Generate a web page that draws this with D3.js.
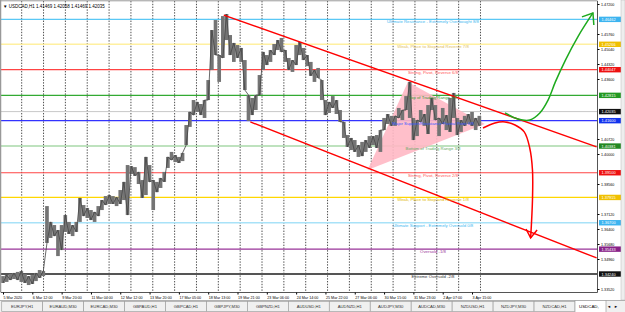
<!DOCTYPE html>
<html>
<head>
<meta charset="utf-8">
<script src="https://cdn.jsdelivr.net/npm/d3@7"></script>
<style>
body { margin: 0; background: #fff; }
svg { display: block; font-family: "Liberation Sans", Arial, sans-serif; }
</style>
</head>
<body>
<div id="chart"></div>
<script>
// USDCAD H1, sampled every 4 bars: high / low of each sample
const sampleStep = 4;
const hi = [1.3414,1.3419,1.3424,1.3429,1.3434,1.3438,1.3424,1.3414,1.3419,1.3429,1.3443,1.3438,
  1.3750,1.3674,1.3659,1.3635,1.3659,1.3707,1.3674,1.3659,1.3674,1.3789,1.3755,1.3741,1.3731,1.3722,
  1.3750,1.3779,1.3798,1.3803,1.3798,1.3793,1.3827,1.3866,1.3947,1.3942,1.3937,1.3914,1.3875,1.3986,
  1.3947,1.3875,1.3866,1.3885,1.3914,1.3986,1.4010,1.3995,1.3986,1.4005,1.4139,1.4202,1.4259,1.4250,
  1.4240,1.4259,1.4355,1.4595,1.4643,1.4475,1.4662,1.4672,1.4571,1.4533,1.4523,1.4509,1.4451,1.4283,
  1.4269,1.4283,1.4379,1.4490,1.4475,1.4499,1.4528,1.4547,1.4557,1.4499,1.4461,1.4451,1.4523,1.4538,
  1.4509,1.4475,1.4442,1.4403,1.4413,1.4355,1.4259,1.4250,1.4278,1.4259,1.4211,1.4154,1.4091,1.4077,
  1.4067,1.4043,1.4058,1.4067,1.4086,1.4086,1.4091,1.4115,1.4173,1.4192,1.4183,1.4183,1.4221,1.4211,
  1.4278,1.4346,1.4173,1.4163,1.4211,1.4192,1.4235,1.4269,1.4235,1.4173,1.4221,1.4187,1.4269,1.4293,
  1.4173,1.4163,1.4183,1.4192,1.4202,1.4173,1.4183];
const lo = [1.3381,1.3386,1.3395,1.3400,1.3395,1.3386,1.3381,1.3371,1.3376,1.3390,1.3405,1.3414,
  1.3573,1.3597,1.3606,1.3510,1.3539,1.3626,1.3616,1.3606,1.3626,1.3674,1.3702,1.3693,1.3683,1.3674,
  1.3702,1.3731,1.3755,1.3760,1.3760,1.3750,1.3760,1.3779,1.3707,1.3904,1.3895,1.3856,1.3789,1.3803,
  1.3866,1.3731,1.3817,1.3837,1.3866,1.3933,1.3971,1.3961,1.3957,1.3966,1.4043,1.4130,1.4187,1.4202,
  1.4187,1.4173,1.4259,1.4403,1.4475,1.4346,1.4461,1.4547,1.4475,1.4442,1.4461,1.4442,1.4307,1.4158,
  1.4187,1.4211,1.4283,1.4403,1.4427,1.4442,1.4475,1.4499,1.4490,1.4442,1.4403,1.4394,1.4427,1.4475,
  1.4451,1.4422,1.4375,1.4346,1.4365,1.4259,1.4187,1.4197,1.4221,1.4192,1.4154,1.4077,1.4034,1.4019,
  1.4010,1.3986,1.3990,1.4010,1.4029,1.4043,1.4029,1.4010,1.4115,1.4144,1.4135,1.4135,1.4173,1.4163,
  1.4211,1.4173,1.4067,1.4086,1.4154,1.4135,1.4096,1.4211,1.4163,1.4086,1.4144,1.4115,1.4106,1.4173,
  1.4091,1.4106,1.4135,1.4144,1.4135,1.4115,1.4135];

const timeLabels = ["5 Mar 2020","6 Mar 12:00","9 Mar 20:00","11 Mar 04:00","12 Mar 12:00","13 Mar 20:00",
  "17 Mar 05:00","18 Mar 13:00","19 Mar 21:00","23 Mar 06:00","24 Mar 14:00","25 Mar 22:00",
  "27 Mar 06:00","30 Mar 15:00","31 Mar 23:00","2 Apr 07:00","3 Apr 15:00"];
const barsPerLabel = 32;

const priceTicks = [1.472,1.4648,1.4576,1.4504,1.4432,1.436,1.4288,1.4216,1.4144,1.4072,1.4,
  1.3928,1.3856,1.3784,1.3712,1.364,1.3568,1.3496,1.3424,1.3352];

// Murrey math levels
const levelPrices = [1.46462,1.45266,1.44047,1.42815,1.41600,1.40381,1.39100,1.37915,1.36700,1.35433,1.34240];
const levelNames = ["Ultimate Resistance - Extremely Overbought 8/8","Weak, Place to Stop and Reverse 7/8",
  "Strong, Pivot, Reverse 6/8","Top of Trading Range 5/8","Major Support/Resistance Pivotal Point 4/8",
  "Bottom of Trading Range 3/8","Strong, Pivot, Reverse 2/8","Weak, Place to Stop and Reverse 1/8",
  "Ultimate Support - Extremely Oversold 0/8","Oversold -1/8","Extreme Oversold -2/8"];
const bidPrice = 1.42035;
const headerText = "USDCAD,H1  1.41469 1.42058 1.41469 1.42035";

// drawn objects, [bar, price]
const channelTop = [[241, 1.4667], [648, 1.4034]];
const channelBottom = [[270, 1.4154], [648, 1.3501]];
const triangle = [[398, 1.3923], [442, 1.4346], [526, 1.4144]];
const greenArrow = [[548,1.4197],[562,1.4168],[575,1.4163],[586,1.4197],[595,1.4259],[603,1.4346],[614,1.4451],[628,1.4566],[644,1.4677]];
const greenHead = [[632,1.4658],[644,1.4677],[645,1.4619]];
const redArrow = [[524,1.4125],[537,1.4149],[548,1.4154],[559,1.4139],[569,1.4106],[575,1.4029],[578,1.3923],[578,1.3779],[576,1.3597]];
const redHead = [[571,1.3640],[576,1.3597],[583,1.3635]];

const tabs = ["EURJPY,H1","EURAUD,M30","EURCAD,M30","GBPAUD,H1","GBPCAD,H1","GBPJPY,M30","GBPNZD,H1",
  "AUDUSD,H1","AUDNZD,H1","AUDJPY,M30","AUDCAD,M30","NZDUSD,H1","NZDJPY,M30","NZDCAD,H1"];
const activeTab = "USDCAD,";

const lineColors = ["#5ac8f5","#fff0a0","#ff4444","#33aa33","#3333ff","#a8d8a8","#ff4444","#ffd700","#a8e2f8","#993399","#555"];
const textColors = ["#40b8f0","#e0c060","#ff5555","#339933","#3355ff","#66aa66","#ff5555","#e0b800","#40b8f0","#993399","#333"];
const boxColors = ["#3cb4f0","#f0c000","#ee1111","#229922","#1133ee","#228822","#ee1111","#f0c000","#3cb4f0","#882288","#111"];
const lineWidths = [1.2,1.6,1.2,1.2,1.2,1.6,1.2,1.2,1.6,1.2,1.8];

const width = 625, height = 312,
    plotLeft = 1, plotRight = 597.5, plotTop = 1, plotBottom = 292.5;

const svg = d3.select('#chart').append('svg')
    .attr('width', width)
    .attr('height', height);

svg.append('rect').attr('width', width).attr('height', height).attr('fill', '#fff');

let xScale = d3.scaleLinear().domain([0, 648]).range([3, 596.6]);
let yScale = d3.scaleLinear().domain([1.472, 1.3352]).range([4, 289]);

let plot = svg.append('g');

// vertical dotted grid
plot.selectAll('.vgrid')
    .data(d3.range(20.4, 524, 23.85))
    .join('line')
    .attr('x1', d => xScale(d)).attr('x2', d => xScale(d))
    .attr('y1', plotTop).attr('y2', plotBottom)
    .attr('stroke', '#222').attr('stroke-width', 0.8)
    .attr('stroke-dasharray', '1.4,1.4');

// bid line
plot.append('line')
    .attr('x1', plotLeft).attr('x2', plotRight)
    .attr('y1', yScale(bidPrice)).attr('y2', yScale(bidPrice))
    .attr('stroke', '#c8c8c8').attr('stroke-width', 1);

// level lines
plot.selectAll('.level')
    .data(levelPrices)
    .join('line')
    .attr('x1', plotLeft).attr('x2', plotRight)
    .attr('y1', d => yScale(d)).attr('y2', d => yScale(d))
    .attr('stroke', (d, i) => lineColors[i])
    .attr('stroke-width', (d, i) => lineWidths[i]);

let line = d3.line().x(d => xScale(d[0])).y(d => yScale(d[1]));

// triangle
plot.append('path')
    .attr('d', line(triangle) + 'Z')
    .attr('fill', '#ffb8c4').attr('fill-opacity', 0.9);

// price samples
let bw = xScale(sampleStep) - xScale(0);
plot.selectAll('.bar')
    .data(hi)
    .join('rect')
    .attr('x', (d, i) => xScale(i * sampleStep) - bw / 2)
    .attr('width', bw)
    .attr('y', d => yScale(d))
    .attr('height', (d, i) => Math.max(1, yScale(lo[i]) - yScale(d)))
    .attr('fill', '#747474');

plot.append('path')
    .attr('d', d3.line()
        .x((d, i) => xScale(i * sampleStep))
        .y((d, i) => yScale(i % 2 ? d : lo[i]))(hi))
    .attr('fill', 'none').attr('stroke', '#444').attr('stroke-width', 0.8);

// channel
[channelTop, channelBottom].forEach(c => {
    plot.append('path').attr('d', line(c))
        .attr('stroke', '#ff0000').attr('stroke-width', 1.4).attr('fill', 'none');
});

// level labels
plot.selectAll('.lvlText')
    .data(levelPrices)
    .join('text')
    .attr('x', 433)
    .attr('y', d => yScale(d) + 4)
    .attr('text-anchor', 'middle')
    .attr('font-size', 4.3)
    .attr('fill', (d, i) => textColors[i])
    .text((d, i) => levelNames[i]);

// arrows
let curve = d3.line().x(d => xScale(d[0])).y(d => yScale(d[1])).curve(d3.curveCatmullRom);
plot.append('path').attr('d', curve(greenArrow))
    .attr('stroke', '#1eaa1e').attr('stroke-width', 1.5).attr('fill', 'none');
plot.append('path').attr('d', line(greenHead))
    .attr('stroke', '#1eaa1e').attr('stroke-width', 1.5).attr('fill', 'none');
plot.append('path').attr('d', curve(redArrow))
    .attr('stroke', '#ff0000').attr('stroke-width', 1.5).attr('fill', 'none');
plot.append('path').attr('d', line(redHead))
    .attr('stroke', '#ff0000').attr('stroke-width', 1.5).attr('fill', 'none');

// frame
svg.append('line').attr('x1', 0.5).attr('x2', 0.5).attr('y1', 0).attr('y2', plotBottom)
    .attr('stroke', '#999').attr('stroke-width', 1.5);
svg.append('line').attr('x1', 0).attr('x2', plotRight).attr('y1', 0.8).attr('y2', 0.8)
    .attr('stroke', '#999').attr('stroke-width', 1);

// header
svg.append('text').attr('x', 3).attr('y', 7.5).attr('font-size', 4.5).attr('fill', '#000')
    .text('\u25BC ' + headerText);

// price boxes
let boxes = levelPrices.map((p, i) => ({p: p, c: boxColors[i]})).concat([{p: bidPrice, c: '#111'}]);

// price axis, ticks hidden where a box sits on them
let shownTicks = priceTicks.filter(t => !boxes.some(b => Math.abs(yScale(b.p) - yScale(t)) < 4.5));
let yAxis = svg.append('g')
    .attr('transform', `translate(${plotRight}, 0)`)
    .call(d3.axisRight(yScale).tickValues(shownTicks).tickFormat(d3.format('.5f')).tickSize(2).tickPadding(1.5));
yAxis.select('.domain').attr('stroke', '#555').attr('d', `M0,${plotTop}V${plotBottom}`);
yAxis.selectAll('text').attr('font-size', 3.7).attr('fill', '#000');
yAxis.selectAll('line').attr('stroke', '#000');

let boxG = svg.append('g').selectAll('g').data(boxes).join('g')
    .attr('transform', d => `translate(${plotRight + 1.5}, ${yScale(d.p)})`);
boxG.append('rect').attr('x', 0).attr('y', -2.7).attr('width', 22).attr('height', 5.4)
    .attr('fill', d => d.c);
boxG.append('text').attr('x', 2.5).attr('y', 1.5).attr('font-size', 3.9).attr('fill', '#fff')
    .text(d => d3.format('.5f')(d.p));

// time axis
let xAxis = svg.append('g')
    .attr('transform', `translate(0, ${plotBottom})`)
    .call(d3.axisBottom(xScale)
        .tickValues(timeLabels.map((t, i) => i * barsPerLabel))
        .tickFormat((d, i) => timeLabels[i]).tickSize(2).tickPadding(1.5));
xAxis.select('.domain').attr('stroke', '#555').attr('d', `M${plotLeft},0H${plotRight}`);
xAxis.selectAll('text').attr('font-size', 3.7).attr('fill', '#000')
    .attr('text-anchor', 'start').attr('dx', 0);
xAxis.selectAll('line').attr('stroke', '#000');

// scrollbar strip
svg.append('rect').attr('x', 621).attr('y', 0).attr('width', 4).attr('height', 300)
    .attr('fill', '#eee').attr('stroke', '#bbb').attr('stroke-width', 0.5);

// tab bar
let tabTop = 300.5, tabW = 40.95;
svg.append('rect').attr('x', 0).attr('y', tabTop).attr('width', width).attr('height', height - tabTop)
    .attr('fill', '#f0f0f0');
svg.append('line').attr('x1', 0).attr('x2', width).attr('y1', tabTop).attr('y2', tabTop)
    .attr('stroke', '#a0a0a0').attr('stroke-width', 0.8);
let tabG = svg.append('g').selectAll('g').data(tabs).join('g')
    .attr('transform', (d, i) => `translate(${1.7 + i * tabW}, ${tabTop + 1})`);
tabG.append('rect').attr('width', tabW).attr('height', 10)
    .attr('fill', '#f0f0f0').attr('stroke', '#a0a0a0').attr('stroke-width', 0.7);
tabG.append('text').attr('x', tabW / 2).attr('y', 6.5).attr('text-anchor', 'middle')
    .attr('font-size', 4.2).attr('fill', '#333').text(d => d);
let act = svg.append('g').attr('transform', `translate(${1.7 + tabs.length * tabW}, ${tabTop})`);
act.append('rect').attr('width', 31).attr('height', 12).attr('fill', '#fff')
    .attr('stroke', '#a0a0a0').attr('stroke-width', 0.7);
act.append('text').attr('x', 4).attr('y', 7.5).attr('font-size', 4.4).attr('fill', '#000').text(activeTab);
svg.append('text').attr('x', 607).attr('y', 308).attr('font-size', 4).attr('fill', '#000').text('\u25C4');
svg.append('text').attr('x', 614).attr('y', 308).attr('font-size', 4).attr('fill', '#000').text('\u25BA');
</script>
</body>
</html>
